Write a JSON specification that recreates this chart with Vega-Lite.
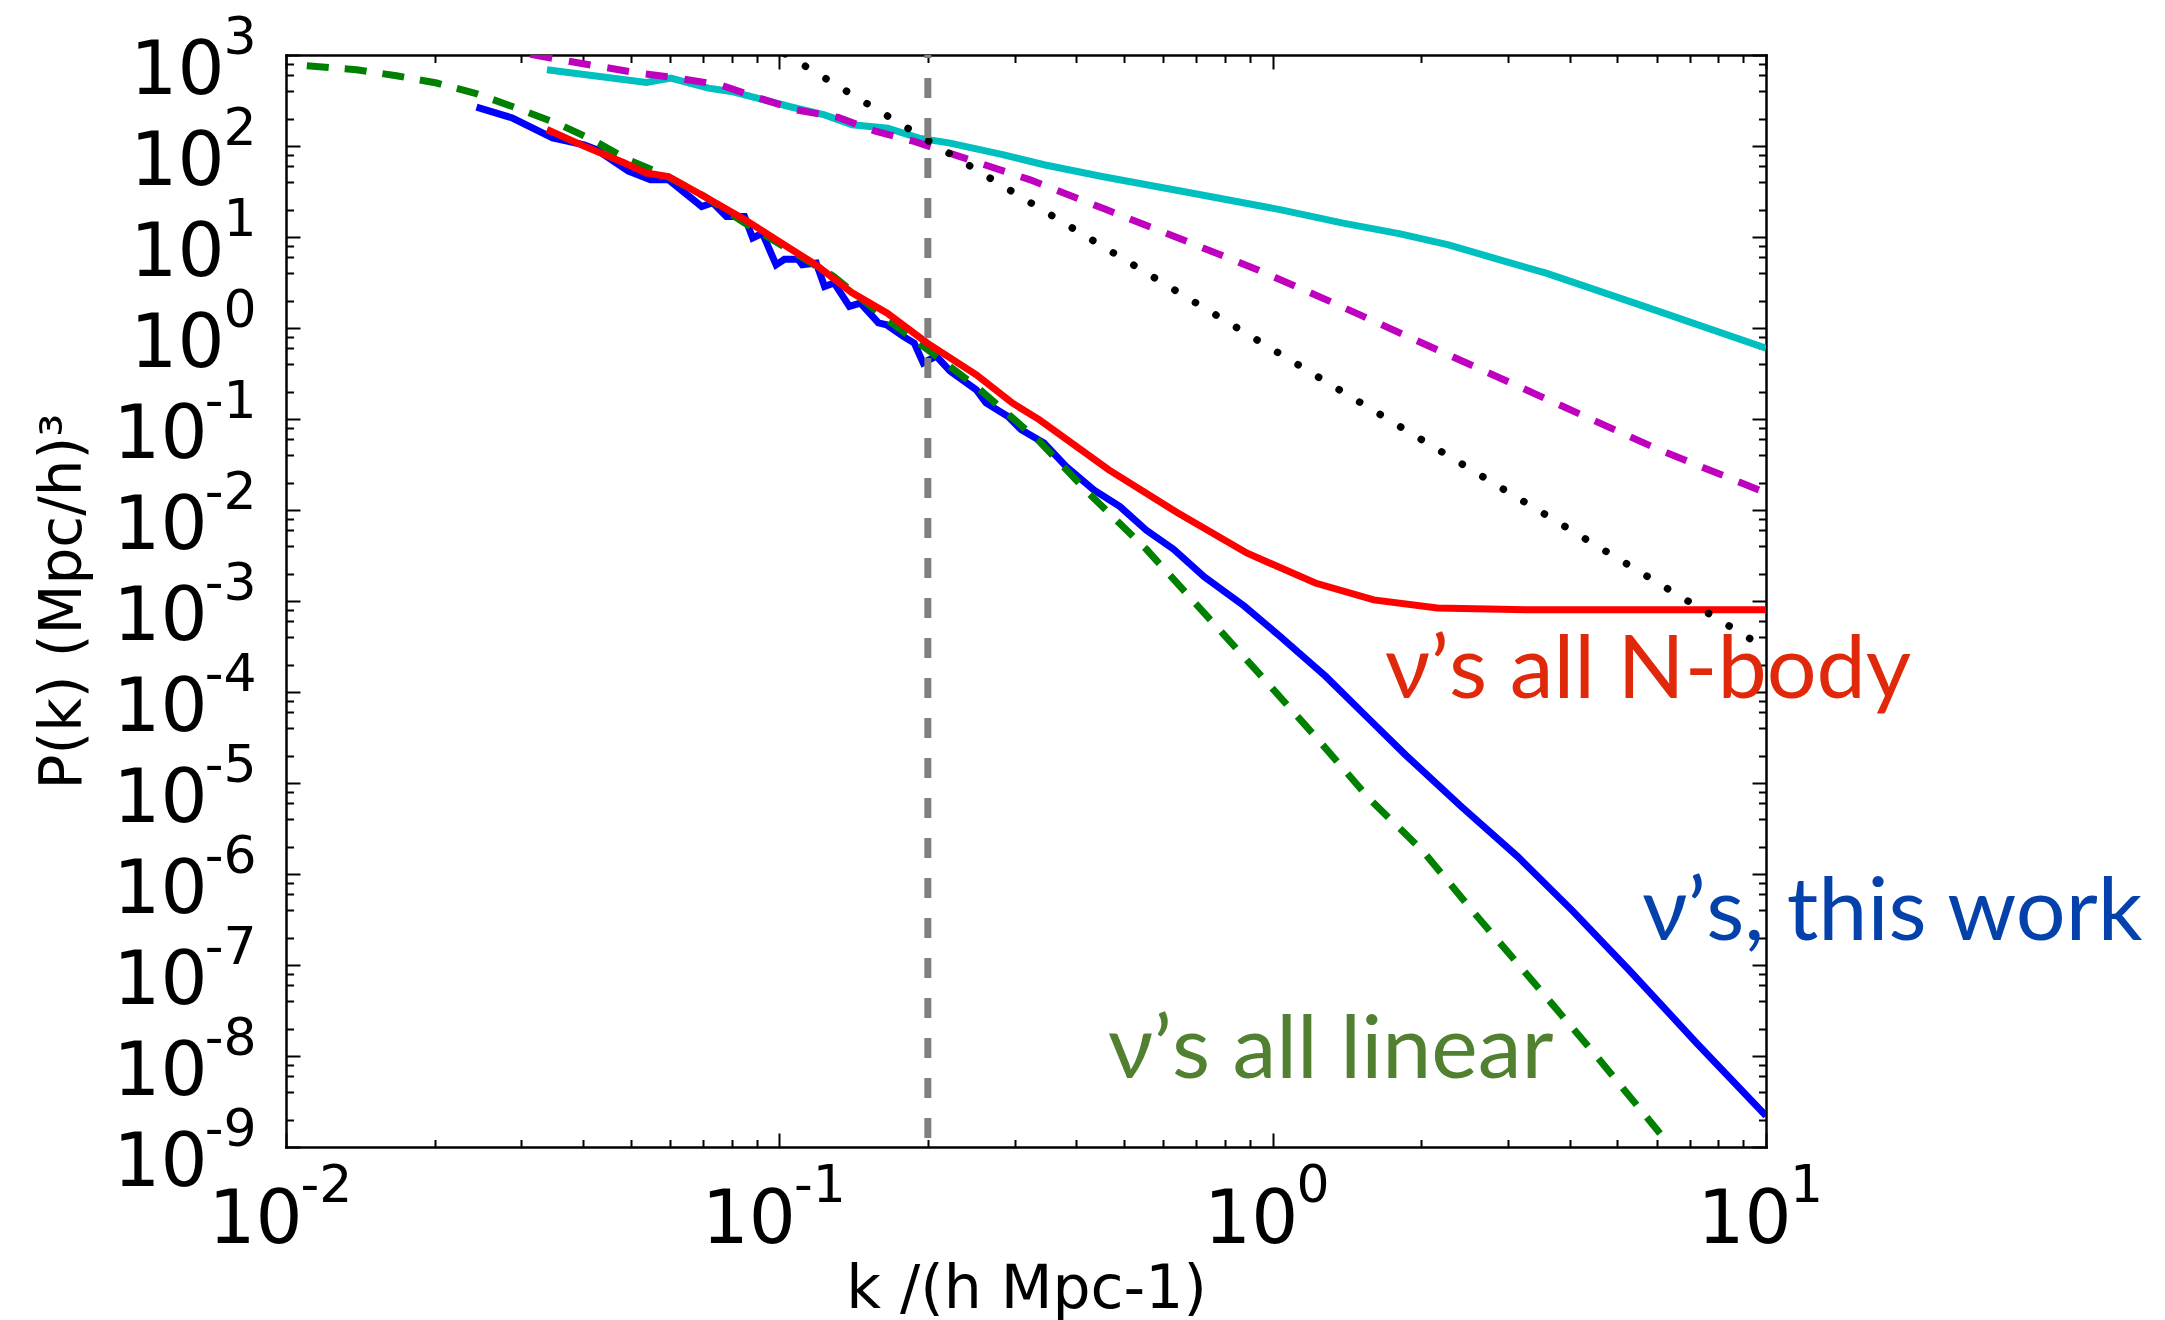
{
  "$schema": "https://vega.github.io/schema/vega-lite/v6.json",
  "width": 1480,
  "height": 1092,
  "autosize": {"type": "none"},
  "padding": {"left": 286, "top": 55, "right": 399, "bottom": 173},
  "background": "white",
  "config": {
    "view": {"stroke": null},
    "axis": {"grid": false, "zindex": 1, "labelFont": "DejaVu Sans", "titleFont": "DejaVu Sans", "labelColor": "black", "titleColor": "black", "titleFontWeight": "normal", "tickColor": "black", "domainColor": "black", "labelOverlap": false, "labelFlush": false, "labelBound": false}
  },
  "datasets": {
    "cyan": [{"k":0.0338,"P":688},{"k":0.05377,"P":499},{"k":0.06026,"P":558},{"k":0.0718,"P":432},{"k":0.0799,"P":397.7},{"k":0.1047,"P":271.6},{"k":0.1235,"P":220},{"k":0.1405,"P":171.2},{"k":0.1658,"P":157},{"k":0.1919,"P":122},{"k":0.2219,"P":107.6},{"k":0.2851,"P":80},{"k":0.344,"P":62.2},{"k":0.451,"P":46.2},{"k":0.6839,"P":30.4},{"k":1.035,"P":20},{"k":1.389,"P":14.2},{"k":1.814,"P":10.84},{"k":2.273,"P":8.19},{"k":2.866,"P":5.68},{"k":3.585,"P":4.0},{"k":5.665,"P":1.73},{"k":10,"P":0.6}],
    "magenta": [{"k":0.0313,"P":1018},{"k":0.03537,"P":900.7},{"k":0.05152,"P":634.9},{"k":0.0621,"P":558},{"k":0.0759,"P":470},{"k":0.0906,"P":338.6},{"k":0.1082,"P":249.8},{"k":0.1317,"P":206.1},{"k":0.1572,"P":144.3},{"k":0.1877,"P":112.2},{"k":0.2267,"P":80},{"k":0.3225,"P":42.5},{"k":0.4597,"P":20},{"k":0.6698,"P":8.94},{"k":0.9339,"P":4.35},{"k":1.331,"P":1.875},{"k":2.156,"P":0.5755},{"k":3.045,"P":0.248},{"k":4.301,"P":0.1065},{"k":6.083,"P":0.0457},{"k":10,"P":0.01548}],
    "blue": [{"k":0.02433,"P":268},{"k":0.02877,"P":203},{"k":0.0347,"P":122.9},{"k":0.0402,"P":103.2},{"k":0.04264,"P":91.0},{"k":0.04944,"P":53.1},{"k":0.0548,"P":42.5},{"k":0.05962,"P":42.5},{"k":0.0696,"P":21.6},{"k":0.0733,"P":23.8},{"k":0.0781,"P":16.8},{"k":0.085,"P":16.8},{"k":0.0883,"P":9.76},{"k":0.0924,"P":11.0},{"k":0.0985,"P":4.94},{"k":0.1024,"P":5.68},{"k":0.1092,"P":5.68},{"k":0.1113,"P":4.94},{"k":0.1188,"P":5.17},{"k":0.1235,"P":2.86},{"k":0.1291,"P":3.13},{"k":0.1387,"P":1.73},{"k":0.146,"P":1.88},{"k":0.1588,"P":1.138},{"k":0.165,"P":1.084},{"k":0.1783,"P":0.808},{"k":0.1877,"P":0.683},{"k":0.1957,"P":0.413},{"k":0.2081,"P":0.492},{"k":0.2219,"P":0.335},{"k":0.2508,"P":0.209},{"k":0.2624,"P":0.15},{"k":0.2909,"P":0.1065},{"k":0.3093,"P":0.0761},{"k":0.344,"P":0.0545},{"k":0.3813,"P":0.0301},{"k":0.4339,"P":0.0166},{"k":0.4903,"P":0.0109},{"k":0.554,"P":0.00603},{"k":0.6304,"P":0.00369},{"k":0.7265,"P":0.00184},{"k":0.8756,"P":0.000882},{"k":1.035,"P":0.000409},{"k":1.281,"P":0.0001484},{"k":1.574,"P":4.94e-5},{"k":1.861,"P":2.025e-5},{"k":2.408,"P":5.56e-6},{"k":3.138,"P":1.553e-6},{"k":4.059,"P":3.91e-7},{"k":5.288,"P":8.7e-8},{"k":7.25,"P":1.37e-8},{"k":10,"P":2.2e-9}],
    "green": [{"k":0.01102,"P":762},{"k":0.0139,"P":688},{"k":0.01675,"P":592},{"k":0.0202,"P":492},{"k":0.0243,"P":376},{"k":0.0293,"P":262},{"k":0.0352,"P":180},{"k":0.0418,"P":117},{"k":0.0494,"P":70.3},{"k":0.0585,"P":48.2},{"k":0.0705,"P":27.9},{"k":0.0849,"P":14.3},{"k":0.129,"P":3.68},{"k":0.1618,"P":1.355},{"k":0.204,"P":0.531},{"k":0.2506,"P":0.228},{"k":0.335,"P":0.0583},{"k":0.4227,"P":0.01549},{"k":0.5546,"P":0.0037},{"k":0.726,"P":0.000741},{"k":0.933,"P":0.000165},{"k":1.224,"P":3.19e-5},{"k":1.574,"P":6.62e-6},{"k":2.01,"P":1.82e-6},{"k":2.6,"P":3.4e-7},{"k":3.39,"P":6.35e-8},{"k":4.53,"P":1.0e-8},{"k":6.1,"P":1.41e-9}],
    "red": [{"k":0.0338,"P":151.6},{"k":0.0402,"P":99.7},{"k":0.04843,"P":65.5},{"k":0.05377,"P":50.4},{"k":0.0596,"P":46.2},{"k":0.0705,"P":27.9},{"k":0.085,"P":15.6},{"k":0.1047,"P":7.56},{"k":0.1187,"P":4.94},{"k":0.1402,"P":2.455},{"k":0.1655,"P":1.458},{"k":0.1995,"P":0.683},{"k":0.2508,"P":0.306},{"k":0.2966,"P":0.15},{"k":0.3363,"P":0.0986},{"k":0.4656,"P":0.0276},{"k":0.6427,"P":0.00926},{"k":0.886,"P":0.00337},{"k":1.2204,"P":0.001575},{"k":1.603,"P":0.001028},{"k":2.156,"P":0.000837},{"k":3.36,"P":0.0008},{"k":10,"P":0.0008}],
    "black": [{"k":0.1,"P":1121},{"k":10,"P":0.000302}],
    "cut": [{"k":0.2}],
    "labels": [{"k":1.69,"P":8.6e-5,"label":"ν’s all N-body"},{"k":5.61,"P":1.88e-7,"label":"ν’s, this work"},{"k":0.4636,"P":5.73e-9,"label":"ν’s all linear"}]
  },
  "resolve": {"axis": {"x": "independent", "y": "independent"}},
  "layer": [
    {
      "data": {"name": "cyan"},
      "mark": {"type": "line", "color": "#00bfbf", "strokeWidth": 7, "clip": true},
      "encoding": {
        "x": {"field": "k", "type": "quantitative", "scale": {"type": "log", "domain": [0.01, 10], "nice": false},
          "axis": {"orient": "bottom", "values": [0.02,0.03,0.04,0.05,0.06,0.07,0.08,0.09,0.2,0.3,0.4,0.5,0.6,0.7,0.8,0.9,2,3,4,5,6,7,8,9], "labels": false, "domain": false, "tickSize": -7.5, "tickWidth": 2, "title": null}},
        "y": {"field": "P", "type": "quantitative", "scale": {"type": "log", "domain": [1e-9, 1000], "nice": false},
          "axis": {"orient": "left", "values": [2e-9,4e-9,6e-9,8e-9,2e-8,4e-8,6e-8,8e-8,2e-7,4e-7,6e-7,8e-7,2e-6,4e-6,6e-6,8e-6,2e-5,4e-5,6e-5,8e-5,0.0002,0.0004,0.0006,0.0008,0.002,0.004,0.006,0.008,0.02,0.04,0.06,0.08,0.2,0.4,0.6,0.8,2,4,6,8,20,40,60,80,200,400,600,800], "labels": false, "domain": false, "tickSize": -7.5, "tickWidth": 2, "title": null}}
      }
    },
    {
      "data": {"name": "magenta"},
      "mark": {"type": "line", "color": "#bf00bf", "strokeWidth": 7, "strokeDash": [22, 17], "clip": true},
      "encoding": {
        "x": {"field": "k", "type": "quantitative", "scale": {"type": "log", "domain": [0.01, 10], "nice": false},
          "axis": {"orient": "top", "values": [0.02,0.03,0.04,0.05,0.06,0.07,0.08,0.09,0.2,0.3,0.4,0.5,0.6,0.7,0.8,0.9,2,3,4,5,6,7,8,9], "labels": false, "domain": false, "tickSize": -7.5, "tickWidth": 2, "title": null}},
        "y": {"field": "P", "type": "quantitative", "scale": {"type": "log", "domain": [1e-9, 1000], "nice": false},
          "axis": {"orient": "right", "values": [2e-9,4e-9,6e-9,8e-9,2e-8,4e-8,6e-8,8e-8,2e-7,4e-7,6e-7,8e-7,2e-6,4e-6,6e-6,8e-6,2e-5,4e-5,6e-5,8e-5,0.0002,0.0004,0.0006,0.0008,0.002,0.004,0.006,0.008,0.02,0.04,0.06,0.08,0.2,0.4,0.6,0.8,2,4,6,8,20,40,60,80,200,400,600,800], "labels": false, "domain": false, "tickSize": -7.5, "tickWidth": 2, "title": null}}
      }
    },
    {
      "data": {"name": "blue"},
      "mark": {"type": "line", "color": "#0000ff", "strokeWidth": 7, "clip": true},
      "encoding": {
        "x": {"field": "k", "type": "quantitative", "scale": {"type": "log", "domain": [0.01, 10], "nice": false},
          "axis": {"orient": "bottom", "values": [0.01, 0.1, 1, 10], "labels": false, "domain": true, "domainWidth": 2.5, "domainCap": "square", "tickSize": -14, "tickWidth": 2, "title": null}},
        "y": {"field": "P", "type": "quantitative", "scale": {"type": "log", "domain": [1e-9, 1000], "nice": false},
          "axis": {"orient": "left", "values": [1e-9,1e-8,1e-7,1e-6,1e-5,1e-4,0.001,0.01,0.1,1,10,100,1000], "labels": false, "domain": true, "domainWidth": 2.5, "domainCap": "square", "tickSize": -14, "tickWidth": 2, "title": null}}
      }
    },
    {
      "data": {"name": "green"},
      "mark": {"type": "line", "color": "#008000", "strokeWidth": 7, "strokeDash": [22, 16], "clip": true},
      "encoding": {
        "x": {"field": "k", "type": "quantitative", "scale": {"type": "log", "domain": [0.01, 10], "nice": false},
          "axis": {"orient": "bottom", "values": [0.01, 0.1, 1, 10], "ticks": false, "domain": false, "labelExpr": "'10'", "labelFontSize": 74, "labelPadding": 95, "labelBaseline": "alphabetic", "labelAlign": "center", "labelOffset": {"condition": {"test": "datum.value < 1", "value": -31}, "value": -22}, "title": "k /(h Mpc-1)", "titleFontSize": 60, "titleX": 740, "titleY": 160, "titleBaseline": "alphabetic", "titleAlign": "center"}},
        "y": {"field": "P", "type": "quantitative", "scale": {"type": "log", "domain": [1e-9, 1000], "nice": false},
          "axis": {"orient": "left", "values": [1e-9,1e-8,1e-7,1e-6,1e-5,1e-4,0.001,0.01,0.1,1,10,100,1000], "ticks": false, "domain": false, "labelExpr": "'10'", "labelFontSize": 74, "labelPadding": {"condition": {"test": "datum.value < 1", "value": 79}, "value": 62}, "labelBaseline": "alphabetic", "labelOffset": 38, "labelAlign": "right", "title": "P(k) (Mpc/h)³", "titleFontSize": 58, "titleX": -206, "titleY": 546, "titleAngle": 270, "titleBaseline": "alphabetic", "titleAlign": "center"}}
      }
    },
    {
      "data": {"name": "red"},
      "mark": {"type": "line", "color": "#ff0000", "strokeWidth": 7, "clip": true},
      "encoding": {
        "x": {"field": "k", "type": "quantitative", "scale": {"type": "log", "domain": [0.01, 10], "nice": false},
          "axis": {"orient": "top", "values": [0.01, 0.1, 1, 10], "labels": false, "domain": true, "domainWidth": 2.5, "domainCap": "square", "tickSize": -14, "tickWidth": 2, "title": null}},
        "y": {"field": "P", "type": "quantitative", "scale": {"type": "log", "domain": [1e-9, 1000], "nice": false},
          "axis": {"orient": "right", "values": [1e-9,1e-8,1e-7,1e-6,1e-5,1e-4,0.001,0.01,0.1,1,10,100,1000], "labels": false, "domain": true, "domainWidth": 2.5, "domainCap": "square", "tickSize": -14, "tickWidth": 2, "title": null}}
      }
    },
    {
      "data": {"name": "black"},
      "mark": {"type": "line", "color": "black", "strokeWidth": 7.5, "strokeDash": [0.1, 23.9], "strokeDashOffset": 17.5, "strokeCap": "round", "clip": true},
      "encoding": {
        "x": {"field": "k", "type": "quantitative", "scale": {"type": "log", "domain": [0.01, 10], "nice": false},
          "axis": {"orient": "bottom", "values": [0.01, 0.1, 1, 10], "ticks": false, "domain": false, "labelExpr": "'' + round(log(datum.value)/LN10)", "labelFontSize": 52, "labelPadding": 54, "labelBaseline": "alphabetic", "labelAlign": "center", "labelOffset": 40, "title": null}},
        "y": {"field": "P", "type": "quantitative", "scale": {"type": "log", "domain": [1e-9, 1000], "nice": false},
          "axis": {"orient": "left", "values": [1e-9,1e-8,1e-7,1e-6,1e-5,1e-4,0.001,0.01,0.1,1,10,100,1000], "ticks": false, "domain": false, "labelExpr": "'' + round(log(datum.value)/LN10)", "labelFontSize": 52, "labelPadding": 30, "labelBaseline": "alphabetic", "labelOffset": -2, "labelAlign": "right", "title": null}}
      }
    },
    {
      "data": {"name": "cut"},
      "mark": {"type": "rule", "color": "#808080", "strokeWidth": 7, "strokeDash": [20, 20], "strokeDashOffset": 17},
      "encoding": {
        "x": {"field": "k", "type": "quantitative", "scale": {"type": "log", "domain": [0.01, 10], "nice": false}, "axis": null}
      }
    },
    {
      "data": {"name": "labels"},
      "mark": {"type": "text", "align": "left", "baseline": "alphabetic", "font": "Lato, Noto Sans", "fontSize": 88},
      "encoding": {
        "x": {"field": "k", "type": "quantitative", "scale": {"type": "log", "domain": [0.01, 10], "nice": false}, "axis": null},
        "y": {"field": "P", "type": "quantitative", "scale": {"type": "log", "domain": [1e-9, 1000], "nice": false}, "axis": null},
        "text": {"field": "label"},
        "color": {"field": "label", "type": "nominal", "scale": {"domain": ["ν’s all N-body", "ν’s, this work", "ν’s all linear"], "range": ["#e0280a", "#0541aa", "#508030"]}, "legend": null}
      }
    }
  ]
}
